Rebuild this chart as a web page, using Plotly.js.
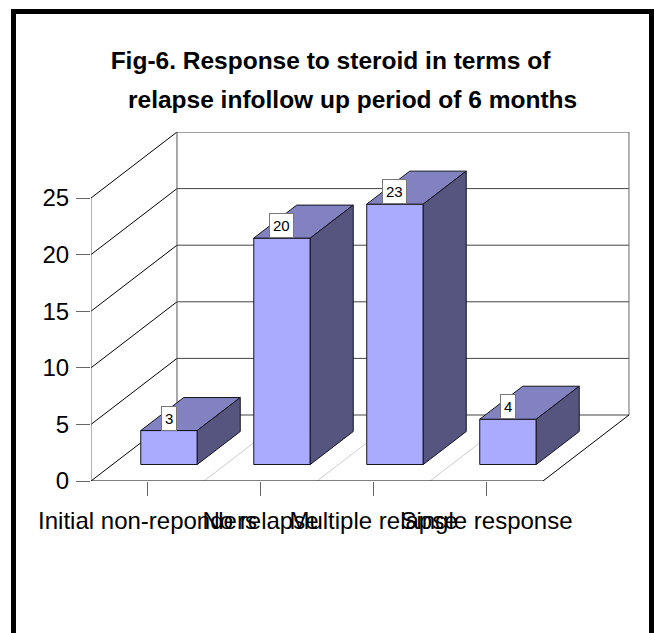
<!DOCTYPE html>
<html>
<head>
<meta charset="utf-8">
<script src="https://cdn.plot.ly/plotly-3.0.1.min.js"></script>
<style>html,body{margin:0;padding:0;background:#fff;overflow:hidden}#chart{width:654px;height:633px}</style>
</head>
<body>
<div id="chart"></div>
<script>
const categories = ["Initial non-reponders", "No relapse", "Multiple relapse", "Single response"];
const values = [3, 20, 23, 4];
const yTicks = [0, 5, 10, 15, 20, 25];
const titleLine1 = "Fig-6. Response to steroid in terms of";
const titleLine2 = "relapse infollow up period of 6 months";

// oblique projection: depth z (0 = front, 1 = back wall) in data units
const DX = 0.761, DY = 5.83, Z1 = 0.25, Z2 = 0.75, HALF = 0.25;
const XMIN = -0.5, XMAX = categories.length - 0.5;
const px = (x, z) => x + DX * z;
const py = (y, z) => y + DY * z;

const FRONT = "#AAAAFF", TOP = "#8282C0", SIDE = "#555580", EDGE = "#14141f";
const traces = [];
function line(xs, ys, color, width) {
  traces.push({type: "scatter", mode: "lines", x: xs, y: ys, cliponaxis: false, hoverinfo: "skip",
    showlegend: false, line: {color: color, width: width || 1}});
}
function face(xs, ys, color) {
  traces.push({type: "scatter", mode: "lines", x: xs.concat(xs[0]), y: ys.concat(ys[0]), fill: "toself",
    fillcolor: color, hoverinfo: "skip", showlegend: false, line: {color: EDGE, width: 1}});
}

// walls
yTicks.forEach(t => {
  line([px(XMIN, 1), px(XMAX, 1)], [py(t, 1), py(t, 1)], "#444444");
});
yTicks.forEach(t => {
  line([px(XMIN, 0), px(XMIN, 1)], [py(t, 0), py(t, 1)], "#000000");
});
const yMax = yTicks[yTicks.length - 1];
line([px(XMIN, 0), px(XMIN, 0)], [0, yMax], "#666666");
line([px(XMIN, 1), px(XMIN, 1)], [py(0, 1), py(yMax, 1)], "#555555");
line([px(XMAX, 1), px(XMAX, 1)], [py(0, 1), py(yMax, 1)], "#666666");
// floor dividers
for (let i = 1; i < categories.length; i++) {
  const b = XMIN + i;
  line([px(b, 0), px(b, 1)], [py(0, 0), py(0, 1)], "#cccccc");
}
line([px(XMAX, 0), px(XMAX, 1)], [py(0, 0), py(0, 1)], "#000000");
line([XMIN - 0.124, XMAX], [0, 0], "#000000");

// bars
values.forEach((v, i) => {
  const l = i - HALF, r = i + HALF;
  face([px(l, Z1), px(r, Z1), px(r, Z1), px(l, Z1)], [py(0, Z1), py(0, Z1), py(v, Z1), py(v, Z1)], FRONT);
  face([px(l, Z1), px(r, Z1), px(r, Z2), px(l, Z2)], [py(v, Z1), py(v, Z1), py(v, Z2), py(v, Z2)], TOP);
  face([px(r, Z1), px(r, Z2), px(r, Z2), px(r, Z1)], [py(0, Z1), py(0, Z2), py(v, Z2), py(v, Z1)], SIDE);
});

const PW = 539, PH = 349;
const paperX = p => (p - 91) / PW;
const paperY = p => (481 - p) / PH;

const annotations = values.map((v, i) => ({
  x: px(i, Z1), y: py(v, Z1), xref: "x", yref: "y", text: String(v), showarrow: false,
  xanchor: "center", yanchor: "bottom", bgcolor: "#ffffff", bordercolor: "#777777", borderwidth: 1, borderpad: 3,
  font: {family: "Liberation Sans", size: 15, color: "#000"}
}));
annotations.push({
  x: paperX(352), y: paperY(100), xref: "paper", yref: "paper", text: "<b>" + titleLine2 + "</b>", showarrow: false,
  xanchor: "center", yanchor: "middle", font: {family: "Liberation Sans", size: 24.5, color: "#000"}
});

const layout = {
  width: 654, height: 633,
  margin: {l: 91, r: 24, t: 132, b: 152, pad: 0},
  paper_bgcolor: "#fff", plot_bgcolor: "#fff",
  showlegend: false,
  title: {text: "<b>" + titleLine1 + "</b>", x: 330.5 / 654, xanchor: "center", y: 1 - 60 / 633, yanchor: "middle",
    font: {family: "Liberation Sans", size: 24.5, color: "#000"}},
  xaxis: {range: [XMIN, 4.27], tickmode: "array", tickvals: categories.map((c, i) => i), ticktext: categories,
    tickangle: 0, ticks: "outside", ticklen: 14, tickcolor: "#666666", tickwidth: 1, showgrid: false, zeroline: false, showline: false,
    ticklabelstandoff: 4,
    tickfont: {family: "Liberation Sans", size: 24, color: "#000"}, fixedrange: true},
  yaxis: {range: [0, 30.83], tickmode: "array", tickvals: yTicks, ticktext: yTicks.map(String),
    ticks: "outside", ticklen: 14, tickcolor: "#666666", tickwidth: 1, showgrid: false, zeroline: false, showline: false,
    ticklabelstandoff: 2,
    tickfont: {family: "Liberation Sans", size: 24, color: "#000"}, fixedrange: true},
  annotations: annotations,
  shapes: [
    {type: "line", xref: "paper", yref: "paper", x0: paperX(13.5), x1: paperX(13.5), y0: paperY(9), y1: paperY(640), line: {color: "#000", width: 5}},
    {type: "line", xref: "paper", yref: "paper", x0: paperX(651.5), x1: paperX(651.5), y0: paperY(9), y1: paperY(640), line: {color: "#000", width: 5}},
    {type: "line", xref: "paper", yref: "paper", x0: paperX(11), x1: paperX(654), y0: paperY(11.5), y1: paperY(11.5), line: {color: "#000", width: 5}}
  ]
};
Plotly.newPlot("chart", traces, layout, {displayModeBar: false, responsive: false});
</script>
</body>
</html>
